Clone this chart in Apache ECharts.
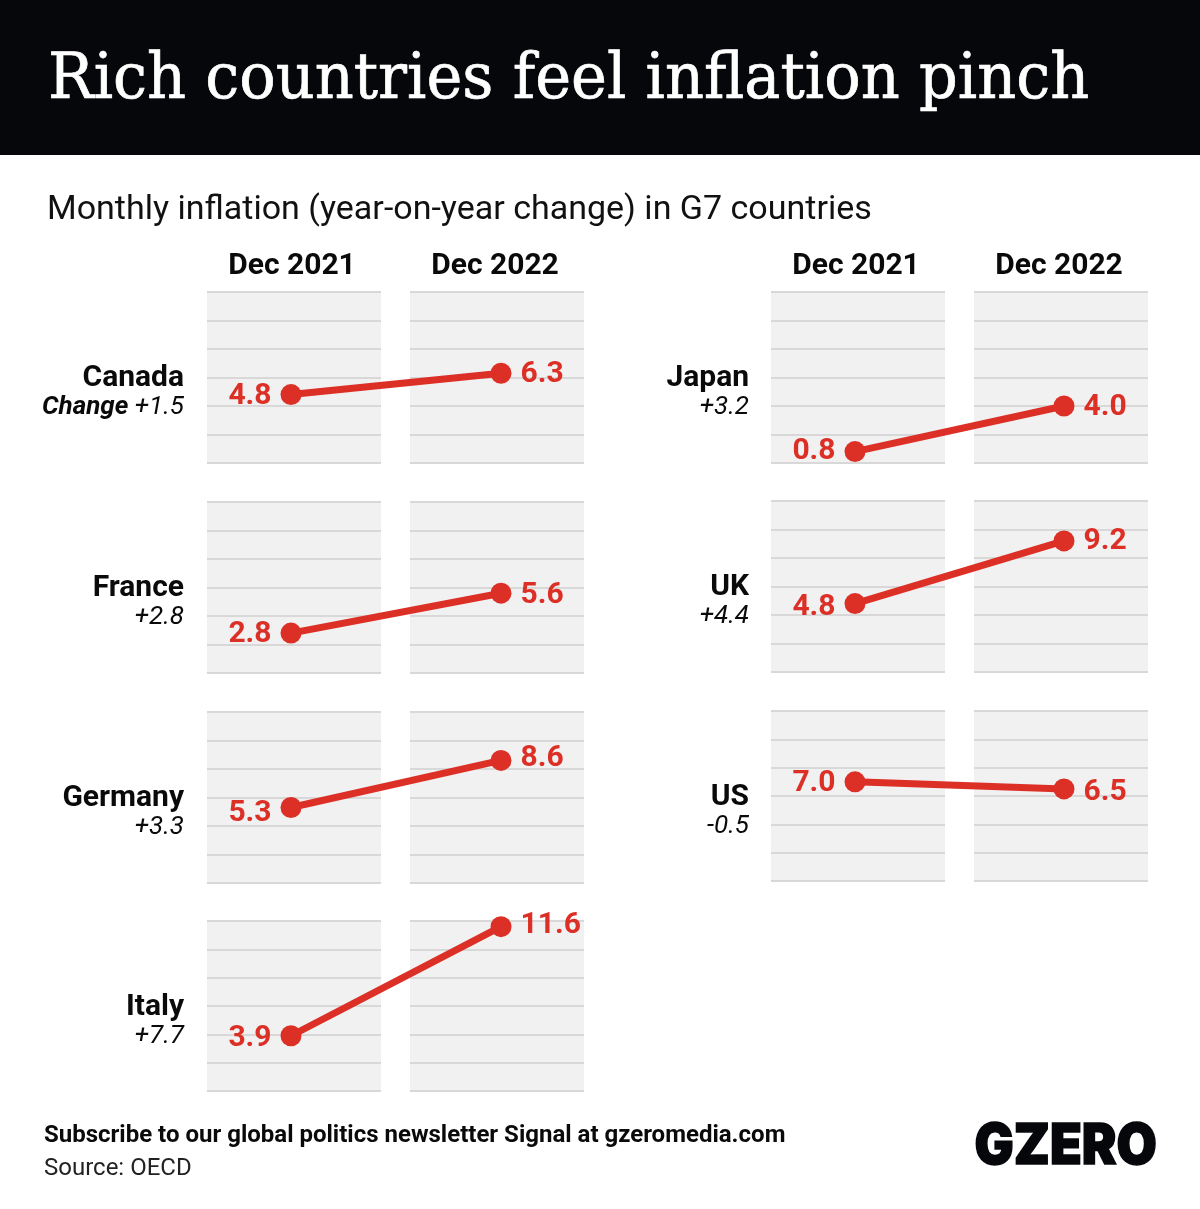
<!DOCTYPE html>
<html><head><meta charset="utf-8">
<style>html,body{margin:0;padding:0;background:#fff}#c{width:1200px;height:1209px}</style>
<script src="https://cdn.jsdelivr.net/npm/echarts@6/dist/echarts.min.js"></script>
</head><body><div id="c"></div>
<script>
const periods = ['Dec 2021', 'Dec 2022'];
const countries = ['Canada', 'France', 'Germany', 'Italy', 'Japan', 'UK', 'US'];
const changes = ['+1.5', '+2.8', '+3.3', '+7.7', '+3.2', '+4.4', '-0.5'];
const dec2021 = [4.8, 2.8, 5.3, 3.9, 0.8, 4.8, 7.0];
const dec2022 = [6.3, 5.6, 8.6, 11.6, 4.0, 9.2, 6.5];
const panelTops = [292, 502, 712, 921, 292, 501, 711];
const panelHeights = [171, 171, 171, 170, 171, 171, 170];
const panelCols = [0, 0, 0, 0, 1, 1, 1];
const labelNudgeLeft = [0, 0, 5, 1, -2, 2, 0];
const labelNudgeRight = [0, 1, -3, -3, 0, -1, 2];

const RED = '#dc3027', INK = '#06070a';
const cols = [
  {l1: 207, l2: 410, w: 174, dot: 291, dw: 210, nameX: 184, head: [292, 495]},
  {l1: 771, l2: 974, w: 174, dot: 855, dw: 209, nameX: 749, head: [856, 1059]}
];
const grid = [], xAxis = [], yAxis = [], series = [], graphic = [];
const txt = (x, y, text, font, fill, align, extra) => Object.assign({
  type: 'text', x, y, silent: true,
  style: Object.assign({text, font, fill, align: align || 'left', verticalAlign: 'middle'}, (extra && extra.styleExtra) || {})
}, extra && extra.scaleX ? {scaleX: extra.scaleX} : {});

graphic.push({type: 'rect', shape: {x: 0, y: 0, width: 1200, height: 155}, style: {fill: INK}, silent: true});
graphic.push(txt(48, 81, 'Rich countries feel inflation pinch', '400 64px "DejaVu Serif"', '#fff', 'left',
  {scaleX: 0.947, styleExtra: {stroke: '#fff', lineWidth: 0.7}}));
graphic.push(txt(47, 210, 'Monthly inflation (year-on-year change) in G7 countries', '400 34px Roboto', '#111'));

cols.forEach(c => periods.forEach((p, i) =>
  graphic.push(txt(c.head[i], 266, p, '700 30px Roboto', '#0a0a0a', 'center'))));

countries.forEach((name, i) => {
  const c = cols[panelCols[i]], top = panelTops[i], H = panelHeights[i];
  [c.l1, c.l2].forEach(left => {
    const idx = grid.length;
    grid.push({left, top, width: c.w, height: H, show: true, backgroundColor: '#f1f1f1', borderWidth: 0});
    xAxis.push({gridIndex: idx, type: 'category', data: periods, show: false});
    yAxis.push({gridIndex: idx, type: 'value', min: 0, max: 12, interval: 2,
      axisLine: {show: false}, axisTick: {show: false}, axisLabel: {show: false},
      splitLine: {show: true, lineStyle: {color: '#d8d8d8', width: 2}}});
  });
  const idx = grid.length;
  grid.push({left: c.dot, top, width: c.dw, height: H});
  xAxis.push({gridIndex: idx, type: 'category', boundaryGap: false, data: periods, show: false});
  yAxis.push({gridIndex: idx, type: 'value', min: 0, max: 12, interval: 2, show: false, splitLine: {show: false}});
  const lab = (pos, nudge) => ({show: true, position: pos, distance: 9, offset: [0, 1.5 + nudge], color: RED,
    fontFamily: 'Roboto', fontWeight: 700, fontSize: 30, formatter: d => d.value.toFixed(1)});
  series.push({type: 'line', xAxisIndex: idx, yAxisIndex: idx, clip: false, z: 5,
    symbol: 'circle', symbolSize: 21, animation: false,
    lineStyle: {color: RED, width: 7}, itemStyle: {color: RED},
    data: [{value: dec2021[i], label: lab('left', labelNudgeLeft[i])},
           {value: dec2022[i], label: lab('right', labelNudgeRight[i])}]});
  graphic.push(txt(c.nameX, top + 86, name, '700 30px Roboto', '#0a0a0a', 'right'));
  graphic.push({type: 'text', x: c.nameX, y: top + 115.5, silent: true, style: {
    text: (i === 0 ? '{b|Change }' : '') + '{i|' + changes[i] + '}', align: 'right', verticalAlign: 'middle',
    rich: {
      b: {font: 'italic 700 26px Roboto', fill: '#0a0a0a'},
      i: {font: 'italic 400 26px Roboto', fill: '#0a0a0a'}
    }}});
});

graphic.push(txt(44, 1136, 'Subscribe to our global politics newsletter Signal at gzeromedia.com', '700 24px Roboto', '#0a0a0a'));
graphic.push(txt(44, 1169, 'Source: OECD', '400 24px Roboto', '#222'));
graphic.push(txt(1157, 1147, 'GZERO', '900 56px Inter', INK, 'right',
  {scaleX: 0.93, styleExtra: {stroke: INK, lineWidth: 1.5}}));

const chart = echarts.init(document.getElementById('c'), null, {width: 1200, height: 1209});
chart.setOption({animation: false, backgroundColor: '#fff', grid, xAxis, yAxis, series, graphic: {elements: graphic}});
</script></body></html>
